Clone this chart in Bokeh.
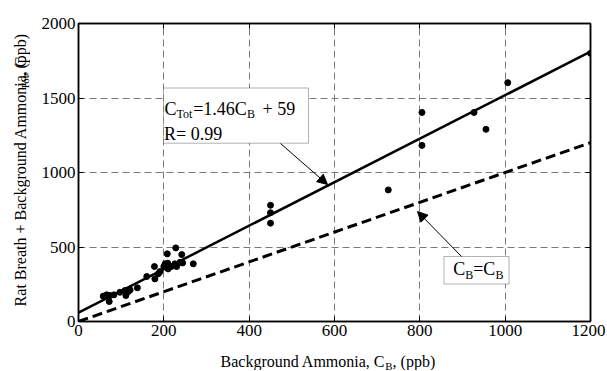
import numpy as np
from bokeh.plotting import figure
from bokeh.layouts import column, row
from bokeh.models import (Range1d, LinearAxis, FixedTicker, BoxAnnotation, Label,
                          Arrow, NormalHead)
from bokeh.embed import file_html
from bokeh.resources import INLINE

# ---- data ----
cb = [58, 66, 74, 72, 83, 97, 109, 111, 117, 121, 138, 160, 178, 179, 187, 191,
      200, 208, 209, 210, 218, 226, 228, 230, 238, 242, 244, 269, 203,
      450, 450, 450, 726, 805, 805, 927, 955, 1006, 1200]
ctot = [170, 179, 174, 134, 179, 196, 208, 174, 201, 212, 226, 302, 369, 286, 320, 335,
        369, 454, 391, 353, 369, 387, 494, 369, 397, 449, 393, 387, 387,
        780, 730, 660, 883, 1403, 1182, 1403, 1290, 1603, 1800]
fit_x = [0, 1200]
fit_y = [59, 1811]
ident_x = [0, 1200]
ident_y = [0, 1200]
x_ticks = [0, 200, 400, 600, 800, 1000, 1200]
y_ticks = [0, 500, 1000, 1500, 2000]

FONT = "'Liberation Serif'"

YL_W = 30          # width of the y-label strip
MAIN_H = 345
XL_H = 25

p = figure(frame_width=512, frame_height=298, output_backend="svg", toolbar_location=None,
           x_range=Range1d(0, 1200), y_range=Range1d(0, 2000),
           min_border_left=48, min_border_right=15, min_border_top=23, min_border_bottom=24)
p.background_fill_color = "white"
p.border_fill_color = "white"
p.outline_line_color = "black"
p.outline_line_width = 1.5

p.xaxis.ticker = FixedTicker(ticks=x_ticks)
p.yaxis.ticker = FixedTicker(ticks=y_ticks)
p.axis.major_tick_in = 5
p.axis.major_tick_out = 0
p.axis.minor_tick_line_color = None
p.axis.axis_line_color = "black"
p.axis.axis_line_width = 1.5
p.axis.major_tick_line_color = "black"
p.axis.major_label_text_font = FONT
p.axis.major_label_text_font_size = "17px"
p.axis.major_label_text_color = "black"
p.axis.major_label_standoff = 3

for loc, tk in (("right", y_ticks), ("above", x_ticks)):
    ax = LinearAxis(ticker=FixedTicker(ticks=tk), major_tick_in=5, major_tick_out=0,
                    minor_tick_line_color=None, major_label_text_color=None,
                    major_label_text_font_size="1px",
                    axis_line_color="black", axis_line_width=1.5, major_label_standoff=0)
    p.add_layout(ax, loc)

p.xgrid.ticker = FixedTicker(ticks=x_ticks)
p.ygrid.ticker = FixedTicker(ticks=y_ticks)
p.grid.grid_line_color = "#7a7a7a"
p.grid.grid_line_dash = "7 4"
p.grid.grid_line_width = 1

p.line(ident_x, ident_y, line_color="black", line_width=3, line_dash="10 5")
p.line(fit_x, fit_y, line_color="black", line_width=2.5)
p.scatter(cb, ctot, size=6, color="black")

# page px -> data (frame: left 78, top 23, 512x298)
def fx(px):
    return (px - 78.0) / (512 / 1200)

def fy(py):
    return (321.0 - py) / (298 / 2000)

p.add_layout(BoxAnnotation(left=fx(163), right=fx(308), top=fy(87.5), bottom=fy(142.7),
                           fill_color="white", fill_alpha=1, line_color="black", line_width=1))
p.add_layout(BoxAnnotation(left=fx(443.5), right=fx(508.5), top=fy(256), bottom=fy(283.5),
                           fill_color="white", fill_alpha=1, line_color="black", line_width=1))

def lab(fig, txt, x, y, size, angle=0.0):
    fig.add_layout(Label(x=x, y=y, text=txt, text_font=FONT,
                         text_font_size=f"{size}px", text_color="black",
                         text_align="left", text_baseline="alphabetic", angle=angle))

def mlab(txt, px, py, size):
    lab(p, txt, fx(px), fy(py), size)

# box 1 text
mlab("C", 164, 108.5, 18)
mlab("Tot", 176, 113.5, 12)
mlab("=1.46C", 192.7, 108.5, 18)
mlab("B", 246.4, 113.5, 12)
mlab("+ 59", 262, 108.5, 18)
mlab("R= 0.99", 163.5, 133.5, 18)

# box 2 text
mlab("C", 452.7, 268, 18)
mlab("B", 464.7, 274.5, 12)
mlab("=C", 472.7, 268, 18)
mlab("B", 494.9, 274.5, 12)

p.add_layout(Arrow(end=NormalHead(size=10, fill_color="black", line_color="black"),
                   x_start=fx(280), y_start=fy(143), x_end=fx(327), y_end=fy(184),
                   line_color="black", line_width=1))
p.add_layout(Arrow(end=NormalHead(size=10, fill_color="black", line_color="black"),
                   x_start=fx(461), y_start=fy(256), x_end=fx(417), y_end=fy(211),
                   line_color="black", line_width=1))

# ---- label strips (data units = pixels) ----
def strip(w, h):
    f = figure(width=w, height=h, output_backend="svg", toolbar_location=None,
               x_range=Range1d(0, w), y_range=Range1d(0, h),
               min_border=0, min_border_left=0, min_border_right=0,
               min_border_top=0, min_border_bottom=0)
    f.axis.visible = False
    f.grid.visible = False
    f.outline_line_color = None
    f.background_fill_color = "white"
    f.border_fill_color = "white"
    return f

yfig = strip(YL_W, MAIN_H)
a = np.pi / 2
lab(yfig, "Rat Breath + Background Ammonia, C", 20, 17.5, 16, a)
lab(yfig, "Tot", 24.5, 268.3, 11, a)
lab(yfig, ", (ppb)", 20, 283.6, 16, a)

xfig = strip(YL_W + 48 + 512 + 15, XL_H)
lab(xfig, "Background Ammonia, C", 220, 9, 16)
lab(xfig, "B", 384.8, 5, 11)
lab(xfig, ", (ppb)", 392.1, 9, 16)

layout = column(row(yfig, p, spacing=0), xfig, spacing=0)
open("out.html", "w").write(file_html(layout, INLINE))
